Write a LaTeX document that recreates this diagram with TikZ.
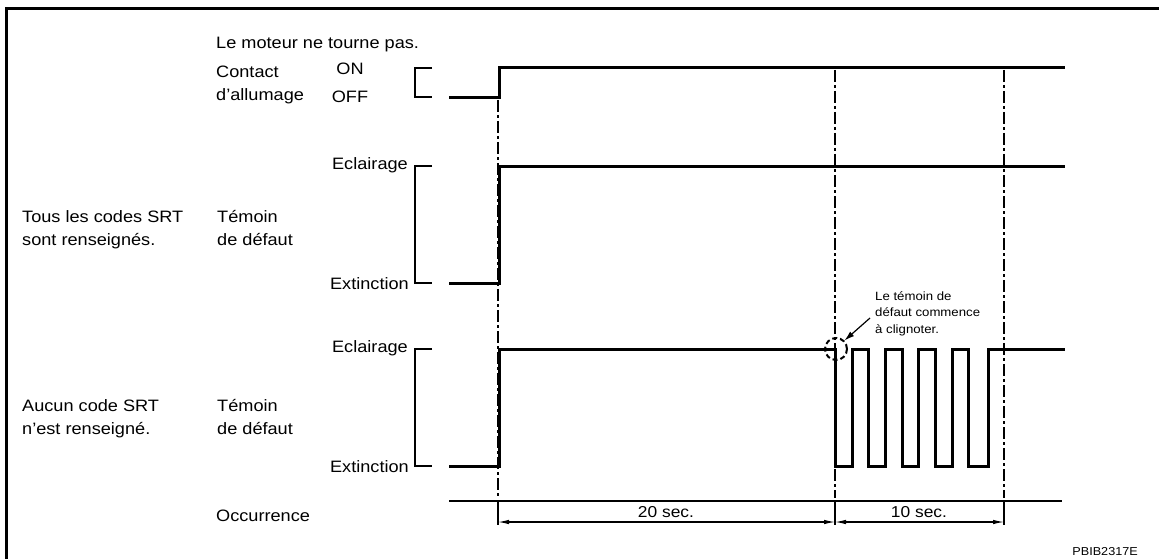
\documentclass[tikz,border=0pt]{standalone}
\usepackage{fontspec}
\setmainfont{Liberation Sans}[FakeStretch=1.1]
\usetikzlibrary{arrows.meta}
\begin{document}
\begin{tikzpicture}[x=1pt,y=-1pt,
  lbl/.style={font=\fontsize{16.5}{23}\selectfont,inner sep=0pt,anchor=base west,align=left},
  lblr/.style={font=\fontsize{16.5}{17}\selectfont,inner sep=0pt,anchor=base east},
  lblc/.style={font=\fontsize{16.5}{17}\selectfont,inner sep=0pt,anchor=base},
  small/.style={font=\fontsize{12}{16.5}\selectfont,inner sep=0pt,anchor=base west,align=left},
  dimlbl/.style={font=\fontsize{15.8}{17}\selectfont,inner sep=0pt,anchor=base},
  sig/.style={line width=3pt,line join=miter},
  brk/.style={line width=1.2pt},
  guide/.style={line width=1.1pt,dash pattern=on 12pt off 3pt on 3pt off 3pt},
  dimarrow/.style={line width=1.1pt,{Latex[length=11pt,width=4.5pt]}-{Latex[length=11pt,width=4.5pt]}},
]
\useasboundingbox (0,0) rectangle (1159,559);
% frame
\draw[line width=3pt] (6.5,559) -- (6.5,9) -- (1159,9);

% guide coordinates
\coordinate (g1t) at (498,100);
\coordinate (g1b) at (498,498);
\coordinate (g2t) at (835,70);
\coordinate (g2b) at (835,498);
\coordinate (g3t) at (1004,70);
\coordinate (g3b) at (1004,498);
\draw[guide] (g1t) -- (g1b);
\draw[guide] (g2t) -- (g2b);
\draw[guide] (g3t) -- (g3b);

% ignition
\node[lbl] (moteur) at (216,49) {Le moteur ne tourne pas.};
\node[lbl] (contact) at (216,78) {Contact};
\node[lbl] (allum) at (216,101) {d'allumage};
\node[lblc] (on) at (350,74.5) {ON};
\node[lblc] (off) at (350,103) {OFF};
\draw[brk] (432,68) -- (415,68) -- (415,97) -- (432,97);
\draw[sig] (449,98) -- (499,98) -- (499,68) -- (1065,68);

% warning lamp 1 (base = last line)
\node[lbl] (tous) at (22,245) {Tous les codes SRT\\sont renseignés.};
\node[lbl] (tem1) at (217,245) {Témoin\\de défaut};
\node[lblr] (ecl1) at (408,169) {Eclairage};
\node[lblr] (ext1) at (409,289) {Extinction};
\draw[brk] (432,166) -- (415,166) -- (415,283) -- (432,283);
\draw[sig] (449,283) -- (499,283) -- (499,166) -- (1065,166);

% warning lamp 2
\node[lbl] (aucun) at (22,434) {Aucun code SRT\\n'est renseigné.};
\node[lbl] (tem2) at (217,434) {Témoin\\de défaut};
\node[lblr] (ecl2) at (408,352) {Eclairage};
\node[lblr] (ext2) at (409,472) {Extinction};
\draw[brk] (432,349) -- (415,349) -- (415,466) -- (432,466);
\draw[sig] (449,466) -- (499,466) -- (499,349) -- (835,349) -- (835,466)
  -- (852,466) -- (852,349) -- (868,349) -- (868,466)
  -- (885,466) -- (885,349) -- (902,349) -- (902,466)
  -- (918,466) -- (918,349) -- (935,349) -- (935,466)
  -- (952,466) -- (952,349) -- (968,349) -- (968,466)
  -- (988,466) -- (988,349) -- (1065,349);

% annotation
\node[draw,circle,minimum size=22pt,inner sep=0pt,line width=2pt,dash pattern=on 5pt off 3pt] (ring) at (836,349) {};
\node[small] (note) at (875,333) {Le témoin de\\défaut commence\\à clignoter.};
\coordinate (na) at (870,318);
\draw[line width=1.2pt,-{Latex[length=10pt,width=6pt]}] (na) -- (ring.north east);

% occurrence
\node[lbl] (occ) at (216,521) {Occurrence};
\coordinate (ol) at (449,501);
\coordinate (or) at (1062,501);
\draw[line width=1.5pt] (ol) -- (or);
\coordinate (t1a) at (498,501); \coordinate (t1b) at (498,525);
\coordinate (t2a) at (835,501); \coordinate (t2b) at (835,525);
\coordinate (t3a) at (1004,501); \coordinate (t3b) at (1004,525);
\draw[line width=1.2pt] (t1a) -- (t1b);
\draw[line width=1.2pt] (t2a) -- (t2b);
\draw[line width=1.2pt] (t3a) -- (t3b);
\coordinate (d1) at (498,522);
\coordinate (d2) at (835,522);
\coordinate (d3) at (1004,522);
\draw[dimarrow] (d1) -- (d2);
\draw[dimarrow] (d2) -- (d3);
\node[dimlbl] (s20) at (666,517) {20 sec.};
\node[dimlbl] (s10) at (919,517) {10 sec.};
\node[font=\fontsize{11.5}{12}\selectfont,anchor=base east,inner sep=0pt] (code) at (1138,555) {PBIB2317E};
\end{tikzpicture}
\end{document}
